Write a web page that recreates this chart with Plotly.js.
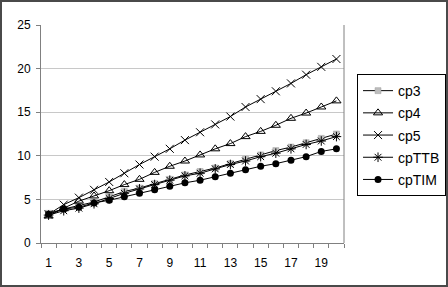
<!DOCTYPE html>
<html>
<head>
<meta charset="utf-8">
<script src="https://cdn.plot.ly/plotly-3.0.1.min.js"></script>
<style>
html,body{margin:0;padding:0;background:#fff;}
#wrap{position:relative;width:448px;height:287px;}
#chart{width:448px;height:287px;}
#frame{position:absolute;left:0;top:0;width:448px;height:287px;box-sizing:border-box;border:2px solid #4a4a4a;pointer-events:none;}
</style>
</head>
<body>
<div id="wrap"><div id="chart"></div><div id="frame"></div></div>
<script>
const categories = [1,2,3,4,5,6,7,8,9,10,11,12,13,14,15,16,17,18,19,20];
const tickLabels = ["1","3","5","7","9","11","13","15","17","19"];
const tickPositions = [1,3,5,7,9,11,13,15,17,19];
const cp3   = [3.4,3.9,4.3,4.7,5.3,5.9,6.3,6.8,7.3,7.8,8.2,8.6,9.1,9.6,10.1,10.6,11.0,11.5,12.0,12.5];
const cp4   = [3.1,4.0,4.8,5.4,6.0,6.7,7.3,8.1,8.8,9.4,10.1,10.8,11.4,12.2,12.8,13.5,14.3,14.9,15.6,16.3];
const cp5   = [3.3,4.4,5.2,6.1,7.0,8.0,9.0,9.9,10.8,11.8,12.7,13.6,14.5,15.6,16.5,17.4,18.3,19.3,20.2,21.1];
const cpTTB = [3.2,3.7,4.0,4.5,5.1,5.7,6.2,6.7,7.2,7.7,8.0,8.5,9.0,9.4,9.9,10.3,10.8,11.3,11.7,12.2];
const cpTIM = [3.3,3.9,4.1,4.6,4.9,5.3,5.7,6.1,6.5,6.9,7.2,7.6,8.0,8.4,8.8,9.1,9.5,9.9,10.5,10.8];

const line = {color:'#000', width:1};
const traces = [
  {name:'cp3', y:cp3, marker:{symbol:'square', size:6, color:'#bdbdbd', line:{color:'#a0a0a0', width:0.5}}},
  {name:'cp4', y:cp4, marker:{symbol:'triangle-up-open', size:8, color:'#000', line:{width:1}}},
  {name:'cp5', y:cp5, marker:{symbol:'x-thin-open', size:8, color:'#000', line:{width:1, color:'#000'}}},
  {name:'cpTTB', y:cpTTB, marker:{symbol:'asterisk-open', size:8, color:'#000', line:{width:1, color:'#000'}}},
  {name:'cpTIM', y:cpTIM, marker:{symbol:'circle', size:7, color:'#000'}}
].map(t => Object.assign({type:'scatter', mode:'lines+markers', x:categories, line:line, legendgroup:t.name}, t));

const layout = {
  width:448, height:287,
  margin:{l:41, r:104, t:25, b:44, pad:0, autoexpand:false},
  paper_bgcolor:'#fff', plot_bgcolor:'#fff',
  font:{family:'"Liberation Sans", Arial, sans-serif', size:12, color:'#000'},
  showlegend:true,
  legend:{x:1.043, y:0.775, xanchor:'left', yanchor:'top', bordercolor:'#000', borderwidth:1,
          font:{size:14}, traceorder:'grouped', tracegroupgap:1, itemwidth:30},
  xaxis:{type:'linear', range:[0.5,20.5], tickmode:'array', tickvals:tickPositions, ticktext:tickLabels,
         ticks:'', showgrid:false, zeroline:false, showline:true, linecolor:'#808080', linewidth:1, mirror:false,
         minor:{tickmode:'linear', tick0:0.5, dtick:1, ticks:'outside', ticklen:4, tickcolor:'#808080', tickwidth:1, showgrid:false},
         tickfont:{size:12}, ticklabelstandoff:9, automargin:false, fixedrange:true},
  yaxis:{range:[0,25], tickmode:'array', tickvals:[0,5,10,15,20,25], ticks:'outside', ticklen:4, tickcolor:'#808080',
         showgrid:true, gridcolor:'#c8c8c8', gridwidth:1, zeroline:false, showline:true, linecolor:'#808080', linewidth:1,
         tickfont:{size:12}, ticklabelstandoff:3, automargin:false, fixedrange:true},
  shapes:[{type:'line', xref:'paper', yref:'paper', x0:1, x1:1, y0:0, y1:1, line:{color:'#808080', width:1}}]
};
Plotly.newPlot('chart', traces, layout, {staticPlot:true, displayModeBar:false});
</script>
</body>
</html>
